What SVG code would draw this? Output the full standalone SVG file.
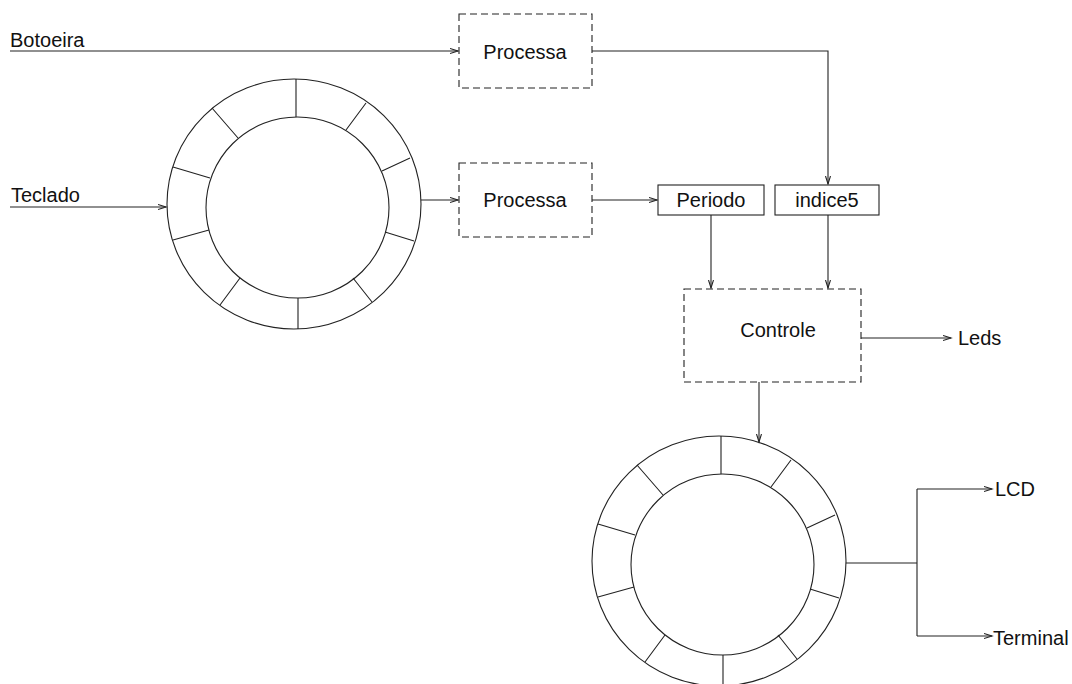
<svg xmlns="http://www.w3.org/2000/svg" xmlns:xlink="http://www.w3.org/1999/xlink" width="1072" height="684" viewBox="0 0 1072 684">
<style>
  .ln { fill: none; stroke: #222; stroke-width: 1.1; }
  .dash { fill: #fff; stroke: #222; stroke-width: 1.1; stroke-dasharray: 7 4; }
  .box { fill: #fff; stroke: #222; stroke-width: 1.1; }
  .t { font-family: "Liberation Sans", Arial, sans-serif; font-size: 20px; fill: #111; }
  .c { text-anchor: middle; }
</style>
<defs>
  <marker id="arr" markerUnits="userSpaceOnUse" markerWidth="10" markerHeight="8" refX="8" refY="3" orient="auto">
    <path d="M0,0.5 L8,3 L0,5.5" fill="none" stroke="#222" stroke-width="1.1"/>
  </marker>
  <g id="ringShape">
    <ellipse cx="294" cy="204" rx="127" ry="125" class="ln"/>
    <ellipse cx="297.5" cy="207.5" rx="91.5" ry="90.5" class="ln"/>
    <path class="ln" d="M296,79 L296,117 M366,103 L346,130 M410,158 L382,171 M414,241 L385,232 M372,302 L353,278 M298,298 L298,329 M220,305 L240,278 M173,240 L209,230 M173,167 L210,178 M212,108 L238,138"/>
  </g>
</defs>
<rect width="1072" height="684" fill="#fff"/>

<g id="connectors">
  <path class="ln" d="M10,51 H458" marker-end="url(#arr)"/>
  <path class="ln" d="M10,207 H166" marker-end="url(#arr)"/>
  <path class="ln" d="M421,200 H458" marker-end="url(#arr)"/>
  <path class="ln" d="M592,51 H828 V184" marker-end="url(#arr)"/>
  <path class="ln" d="M592,200 H657" marker-end="url(#arr)"/>
  <path class="ln" d="M711,215 V288" marker-end="url(#arr)"/>
  <path class="ln" d="M828,215 V288" marker-end="url(#arr)"/>
  <path class="ln" d="M861,338 H951" marker-end="url(#arr)"/>
  <path class="ln" d="M759,382 V442" marker-end="url(#arr)"/>
  <path class="ln" d="M846,563 H917 M917,489 V636"/>
  <path class="ln" d="M917,489 H992" marker-end="url(#arr)"/>
  <path class="ln" d="M917,636 H992" marker-end="url(#arr)"/>
</g>

<g id="botoeira"><text class="t" x="10" y="47">Botoeira</text></g>
<g id="teclado"><text class="t" x="11" y="202">Teclado</text></g>

<g id="buffer1"><use xlink:href="#ringShape" href="#ringShape"/></g>
<g id="buffer2" transform="translate(425,357)"><use xlink:href="#ringShape" href="#ringShape"/></g>

<g id="processa1">
  <rect class="dash" x="459" y="14" width="133" height="74"/>
  <text class="t c" x="525" y="59">Processa</text>
</g>
<g id="processa2">
  <rect class="dash" x="459" y="163" width="133" height="74"/>
  <text class="t c" x="525" y="207">Processa</text>
</g>
<g id="periodo">
  <rect class="box" x="658" y="185" width="106" height="30"/>
  <text class="t c" x="711" y="207">Periodo</text>
</g>
<g id="indice5">
  <rect class="box" x="775" y="185" width="104" height="30"/>
  <text class="t c" x="827" y="207">indice5</text>
</g>
<g id="controle">
  <rect class="dash" x="684" y="289" width="177" height="93"/>
  <text class="t c" x="778" y="337">Controle</text>
</g>
<g id="leds"><text class="t" x="958" y="345">Leds</text></g>
<g id="lcd"><text class="t" x="995" y="496">LCD</text></g>
<g id="terminal"><text class="t" x="993" y="645">Terminal</text></g>
</svg>
